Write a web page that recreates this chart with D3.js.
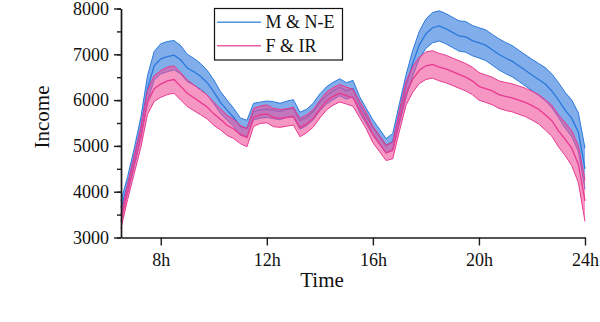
<!DOCTYPE html>
<html>
<head>
<meta charset="utf-8">
<script src="https://cdn.jsdelivr.net/npm/d3@7"></script>
<style>
  body { margin: 0; background: #fff; }
  svg, svg text { font-family: "Liberation Serif", "Times New Roman", "DejaVu Serif", serif; }
</style>
</head>
<body>
<svg id="chart" width="600" height="322"></svg>
<script>
// hours of the day, one reading every quarter hour
const hours = d3.range(6.5, 24.001, 0.25);

// M & N-E
const blueMean = [
  3650, 4150, 4750, 5400, 6250, 6750, 6900, 6950, 6980, 6880,
  6700, 6620, 6520, 6380, 6180, 5950, 5780, 5620, 5420, 5380,
  5750, 5780, 5800, 5780, 5750, 5800, 5820, 5550, 5620, 5750,
  5950, 6100, 6200, 6280, 6200, 6250, 5900, 5650, 5400, 5200,
  5000, 5100, 5700, 6300, 6800, 7200, 7450, 7580, 7620, 7560,
  7480, 7400, 7380, 7300, 7250, 7200, 7100, 7000, 6920, 6850,
  6750, 6650, 6550, 6450, 6350, 6200, 6000, 5780, 5600, 5300,
  4500
];
const blueHalf = [
  150, 180, 200, 230, 280, 310, 330, 330, 320, 310,
  300, 290, 280, 270, 260, 240, 220, 200, 190, 180,
  180, 175, 180, 185, 180, 175, 190, 185, 180, 180,
  185, 190, 190, 185, 180, 180, 175, 170, 170, 165,
  160, 170, 220, 250, 280, 300, 320, 330, 330, 330,
  330, 330, 335, 330, 330, 335, 335, 340, 340, 340,
  340, 340, 340, 350, 360, 370, 380, 390, 400, 420,
  450
];

// F & IR
const pinkMean = [
  3350, 4000, 4600, 5200, 5950, 6250, 6350, 6420, 6450, 6300,
  6150, 6050, 5950, 5850, 5700, 5580, 5450, 5370, 5250, 5180,
  5620, 5680, 5700, 5620, 5600, 5620, 5650, 5400, 5480, 5600,
  5800, 5980, 6080, 6150, 6100, 6050, 5800, 5550, 5250, 5050,
  4850, 4900, 5550, 6150, 6450, 6650, 6750, 6780, 6720, 6680,
  6620, 6560, 6500, 6420, 6300, 6250, 6200, 6120, 6080, 6050,
  6000, 5950, 5880, 5800, 5680, 5550, 5330, 5150, 4950, 4600,
  3800
];
const pinkHalf = [
  150, 170, 200, 230, 260, 280, 290, 300, 300, 300,
  290, 280, 270, 260, 250, 230, 220, 210, 200, 200,
  195, 190, 195, 200, 195, 190, 195, 200, 195, 190,
  190, 195, 190, 190, 185, 185, 180, 180, 180, 175,
  170, 180, 230, 260, 280, 290, 300, 300, 300, 300,
  300, 300, 300, 300, 300, 300, 300, 300, 305, 305,
  310, 310, 315, 320, 330, 340, 350, 360, 380, 400,
  450
];

const xTicks = [8, 12, 16, 20, 24];
const yTicks = [3000, 4000, 5000, 6000, 7000, 8000];
const yMinor = d3.range(3000, 8001, 500);

const series = [
  { name: 'M & N-E', mean: blueMean, half: blueHalf, line: '#2a78dc', fill: 'rgba(52,124,222,0.62)' },
  { name: 'F & IR', mean: pinkMean, half: pinkHalf, line: '#e83890', fill: 'rgba(238,80,155,0.6)' },
];

const serif = '"Liberation Serif", "Times New Roman", "DejaVu Serif", serif';
const margin = { top: 8.5, right: 15, bottom: 84.5, left: 121 };
const width = 600, height = 322;

const svg = d3.select('#chart').attr('font-family', serif);

const x = d3.scaleLinear()
  .domain([6.5, 24])
  .range([margin.left, width - margin.right]);

const y = d3.scaleLinear()
  .domain([3000, 8000])
  .range([height - margin.bottom, margin.top]);

series.forEach((s) => {
  const pts = hours.map((h, i) => ({ h, m: s.mean[i], lo: s.mean[i] - s.half[i], hi: s.mean[i] + s.half[i] }));
  const g = svg.append('g');

  g.append('path')
    .attr('d', d3.area().x((d) => x(d.h)).y0((d) => y(d.lo)).y1((d) => y(d.hi))(pts))
    .attr('fill', s.fill);

  ['lo', 'hi', 'm'].forEach((k) => {
    g.append('path')
      .attr('d', d3.line().x((d) => x(d.h)).y((d) => y(d[k]))(pts))
      .attr('fill', 'none')
      .attr('stroke', s.line)
      .attr('stroke-width', k === 'm' ? 1.3 : 1);
  });
});

// axes
const xAxis = svg.append('g')
  .attr('transform', `translate(0,${y(3000)})`)
  .call(d3.axisBottom(x).tickValues(xTicks).tickFormat((d) => d + 'h').tickSize(8).tickSizeOuter(0));

svg.append('g')
  .attr('transform', `translate(${x(6.5)},0)`)
  .call(d3.axisLeft(y).tickValues(yMinor).tickFormat('').tickSize(4).tickSizeOuter(0));

const yAxis = svg.append('g')
  .attr('transform', `translate(${x(6.5)},0)`)
  .call(d3.axisLeft(y).tickValues(yTicks).tickFormat(d3.format('d')).tickSize(7).tickPadding(5).tickSizeOuter(0));

svg.selectAll('g').attr('font-family', serif);
svg.selectAll('.domain, .tick line').attr('stroke', '#1a1a1a').attr('stroke-width', 1.4);
xAxis.selectAll('text').attr('font-size', 18).attr('fill', '#111').attr('dy', '0.95em');
yAxis.selectAll('text').attr('font-size', 18).attr('fill', '#111');

svg.append('text')
  .attr('x', 322).attr('y', 287)
  .attr('text-anchor', 'middle')
  .attr('font-size', 21)
  .attr('fill', '#111')
  .text('Time');

svg.append('text')
  .attr('transform', 'translate(49,117) rotate(-90)')
  .attr('text-anchor', 'middle')
  .attr('font-size', 21)
  .attr('fill', '#111')
  .text('Income');

// legend
const legend = svg.append('g');
legend.append('rect')
  .attr('x', 214.5).attr('y', 8.5).attr('width', 128).attr('height', 51.5)
  .attr('fill', '#fff').attr('stroke', '#111').attr('stroke-width', 1.2);

series.forEach((s, i) => {
  const ly = 22.3 + i * 23.5;
  legend.append('line')
    .attr('x1', 217).attr('x2', 261).attr('y1', ly).attr('y2', ly)
    .attr('stroke', s.line).attr('stroke-width', 1.5).attr('opacity', 0.8);
  legend.append('text')
    .attr('x', 265.5).attr('y', ly + 6)
    .attr('font-size', 18)
    .attr('fill', '#111')
    .text(s.name);
});
</script>
</body>
</html>
